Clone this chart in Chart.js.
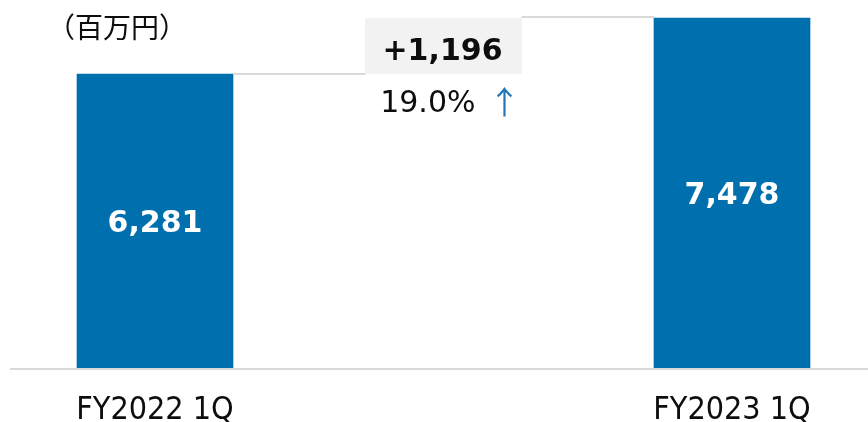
<!DOCTYPE html>
<html>
<head>
<meta charset="utf-8">
<script src="https://cdn.jsdelivr.net/npm/chart.js@4/dist/chart.umd.min.js"></script>
<style>
html,body{margin:0;padding:0;background:#fff;}
#wrap{width:868px;height:422px;position:relative;}
</style>
</head>
<body>
<div id="wrap"><canvas id="c" width="868" height="422"></canvas></div>
<script>
const categories = ["FY2022 1Q", "FY2023 1Q"];
const values = [6281, 7478];
const valueLabels = ["6,281", "7,478"];
const changeLabel = "+1,196";
const changePct = "19.0%";
const unitLabel = "（百万円）";

const BAR = "#006FAD";
const GRAY = "#d9d9d9";
const BAR_W = 156;
const TEXT = "#0d0d0d";

const overlay = {
  id: "overlay",
  afterDatasetsDraw(chart) {
    const ctx = chart.ctx;
    const y = chart.scales.y;
    const meta = chart.getDatasetMeta(0);
    const b1 = meta.data[0], b2 = meta.data[1];
    const y0 = y.getPixelForValue(0);
    const y1 = y.getPixelForValue(values[0]);
    const y2 = y.getPixelForValue(values[1]);
    const mid = (b1.x + b2.x) / 2;
    ctx.save();
    // baseline
    ctx.strokeStyle = GRAY;
    ctx.lineWidth = 2;
    ctx.beginPath();
    ctx.moveTo(10, y0 + 1);
    ctx.lineTo(868, y0 + 1);
    ctx.stroke();
    // connectors
    ctx.beginPath();
    ctx.moveTo(b1.x + BAR_W / 2, y1);
    ctx.lineTo(mid - BAR_W / 2, y1);
    ctx.moveTo(mid + BAR_W / 2, y2 - 1);
    ctx.lineTo(b2.x - BAR_W / 2, y2 - 1);
    ctx.stroke();
    // change box
    ctx.fillStyle = "#f2f2f2";
    ctx.fillRect(mid - BAR_W / 2 - 0.5, y2, BAR_W + 1, y1 - y2);
    ctx.fillStyle = TEXT;
    ctx.font = "bold 30px 'DejaVu Sans'";
    ctx.textAlign = "center";
    ctx.textBaseline = "alphabetic";
    ctx.fillText(changeLabel, mid - 1, (y1 + y2) / 2 + 14);
    // percentage
    ctx.font = "30px 'DejaVu Sans'";
    ctx.textAlign = "right";
    ctx.fillText(changePct, mid + 32, y1 + 38);
    ctx.fillStyle = "#1F77B9";
    ctx.textAlign = "center";
    ctx.font = "32px 'Noto Sans CJK JP'";
    ctx.fillText("↑", mid + 61, y1 + 40);
    // bar value labels
    ctx.fillStyle = "#fff";
    ctx.font = "bold 30px 'DejaVu Sans'";
    ctx.textAlign = "center";
    meta.data.forEach((bar, i) => {
      ctx.fillText(valueLabels[i], bar.x, (bar.y + bar.base) / 2 + 11);
    });
    // unit
    ctx.fillStyle = TEXT;
    ctx.font = "28px 'Noto Sans CJK JP'";
    ctx.textAlign = "left";
    ctx.fillText(unitLabel, 47, 38);
    ctx.restore();
  }
};

new Chart(document.getElementById("c"), {
  type: "bar",
  data: {
    labels: categories,
    datasets: [{
      data: values,
      backgroundColor: BAR,
      barThickness: BAR_W,
      clip: false
    }]
  },
  options: {
    responsive: false,
    animation: false,
    layout: { padding: { left: 155, right: 136, top: 18, bottom: 0 } },
    plugins: { legend: { display: false }, tooltip: { enabled: false } },
    scales: {
      x: {
        offset: false,
        grid: { display: false, drawTicks: false },
        border: { display: false },
        afterFit(scale) { scale.height = 54; },
        ticks: {
          color: TEXT,
          font: { family: "'DejaVu Sans Condensed'", size: 32 },
          padding: 23,
          maxRotation: 0,
          autoSkip: false
        }
      },
      y: {
        display: false,
        min: 0,
        max: Math.max(...values)
      }
    }
  },
  plugins: [overlay]
});
</script>
</body>
</html>
